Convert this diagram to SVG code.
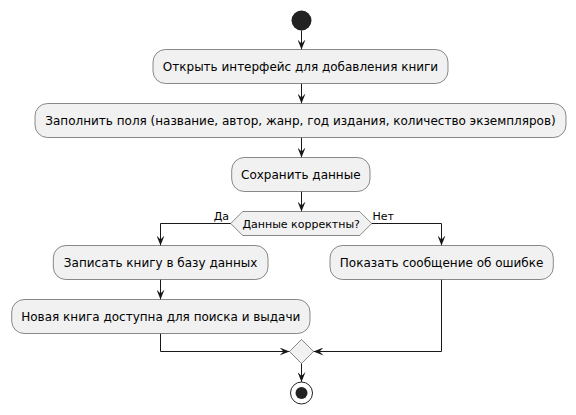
<svg xmlns="http://www.w3.org/2000/svg" width="576" height="415" viewBox="0 0 576 415">
<defs>
<style>
.box{fill:#F1F1F1;stroke:#181818;stroke-width:0.5}
.t{font-family:"DejaVu Sans","Liberation Sans",sans-serif;font-size:12px;fill:#000;text-anchor:middle}
.s{font-family:"DejaVu Sans","Liberation Sans",sans-serif;font-size:11px;fill:#000}
.e{fill:none;stroke:#181818;stroke-width:1}
</style>
<marker id="ah" viewBox="0 0 10 8" refX="10" refY="4" markerWidth="10" markerHeight="8" markerUnits="userSpaceOnUse" orient="auto">
<path d="M0,0 L10,4 L0,8 L4,4 Z" fill="#181818"/>
</marker>
</defs>
<rect width="576" height="415" fill="#FFFFFF"/>
<g id="connectors">
<path class="e" d="M301.5,30.5 V49.5" marker-end="url(#ah)"/>
<path class="e" d="M301.5,83.5 V103.5" marker-end="url(#ah)"/>
<path class="e" d="M301.5,137.5 V157.5" marker-end="url(#ah)"/>
<path class="e" d="M301.5,191.5 V211.5" marker-end="url(#ah)"/>
<path class="e" d="M230.7,223.5 H160.5 V245.5" marker-end="url(#ah)"/>
<path class="e" d="M371.7,223.5 H441.5 V245.5" marker-end="url(#ah)"/>
<path class="e" d="M160.5,279.5 V299.5" marker-end="url(#ah)"/>
<path class="e" d="M160.5,333.5 V351.5 H289.5" marker-end="url(#ah)"/>
<path class="e" d="M441.5,279.5 V351.5 H313.5" marker-end="url(#ah)"/>
<path class="e" d="M301.5,363.5 V382" marker-end="url(#ah)"/>
<text class="s" x="229" y="220" text-anchor="end">Да</text>
<text class="s" x="372.5" y="220">Нет</text>
</g>
<g id="start"><circle cx="301.5" cy="20.5" r="10" fill="#222222"/></g>
<g id="n1"><rect class="box" x="153" y="49.5" width="295" height="34" rx="12.5"/><text class="t" x="300.5" y="71">Открыть интерфейс для добавления книги</text></g>
<g id="n2"><rect class="box" x="35" y="103.5" width="531" height="34" rx="12.5"/><text class="t" x="300.5" y="125">Заполнить поля (название, автор, жанр, год издания, количество экземпляров)</text></g>
<g id="n3"><rect class="box" x="231.7" y="157.5" width="138.3" height="34" rx="12.5"/><text class="t" x="300.8" y="179">Сохранить данные</text></g>
<g id="decision"><polygon class="box" points="242.7,211.5 359.7,211.5 371.7,223.5 359.7,235.5 242.7,235.5 230.7,223.5"/><text class="s" x="301.2" y="227.5" text-anchor="middle">Данные корректны?</text></g>
<g id="n4"><rect class="box" x="53.3" y="245.5" width="214.7" height="34" rx="12.5"/><text class="t" x="160.6" y="267">Записать книгу в базу данных</text></g>
<g id="n5"><rect class="box" x="330" y="245.5" width="223.3" height="34" rx="12.5"/><text class="t" x="441.6" y="267">Показать сообщение об ошибке</text></g>
<g id="n6"><rect class="box" x="11.7" y="299.5" width="298.3" height="34" rx="12.5"/><text class="t" x="160.8" y="321">Новая книга доступна для поиска и выдачи</text></g>
<g id="merge"><polygon class="box" points="301.5,339.5 313.5,351.5 301.5,363.5 289.5,351.5"/></g>
<g id="end"><circle cx="301.5" cy="393" r="11" fill="#FFFFFF" stroke="#222222" stroke-width="1"/><circle cx="301.5" cy="393" r="6" fill="#222222"/></g>
</svg>
